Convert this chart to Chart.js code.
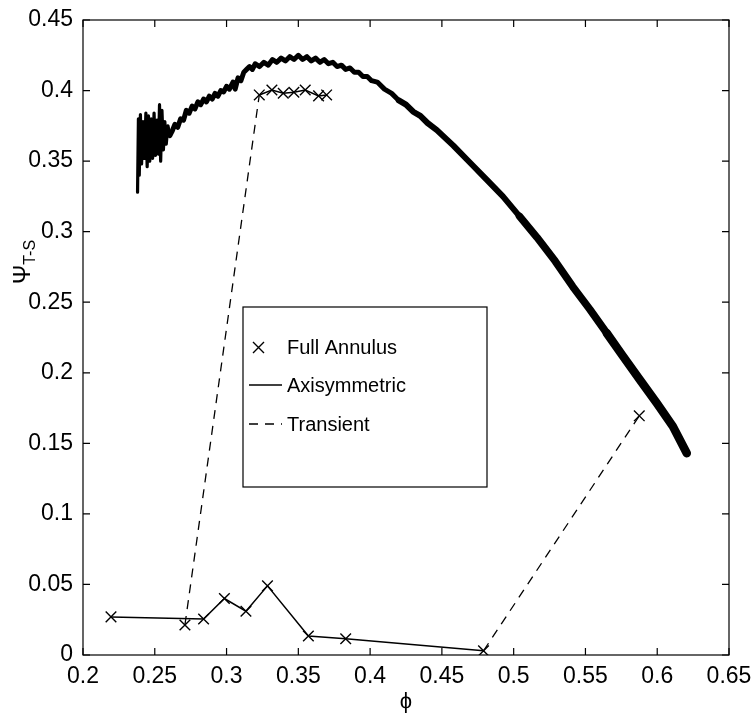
<!DOCTYPE html>
<html>
<head>
<meta charset="utf-8">
<script src="https://cdn.jsdelivr.net/npm/chart.js@4.4.1/dist/chart.umd.min.js"></script>
<style>
  body { margin: 0; background: #fff; }
  canvas { display: block; }
</style>
</head>
<body>
<canvas id="psiChart" width="752" height="715"></canvas>
<script>
const xTicks = [0.2, 0.25, 0.3, 0.35, 0.4, 0.45, 0.5, 0.55, 0.6, 0.65];
const yTicks = [0, 0.05, 0.1, 0.15, 0.2, 0.25, 0.3, 0.35, 0.4, 0.45];

// axisymmetric characteristic (noisy near stall)
const axiPhi = [
  0.2380, 0.2386, 0.2392, 0.2400, 0.2408, 0.2418, 0.2428, 0.2438, 0.2447, 0.2456,
  0.2465, 0.2475, 0.2485, 0.2495, 0.2505, 0.2515, 0.2525, 0.2533, 0.2541, 0.2550,
  0.2560, 0.2570, 0.2580, 0.2592, 0.2605,
  0.2620, 0.2640, 0.2660, 0.2680, 0.2700, 0.2720, 0.2740, 0.2760, 0.2780, 0.2800,
  0.2820, 0.2840, 0.2860, 0.2880, 0.2900, 0.2920, 0.2940, 0.2960, 0.2980, 0.3000,
  0.3020, 0.3045, 0.3060, 0.3080, 0.3100, 0.3120, 0.3140, 0.3160, 0.3180, 0.3200,
  0.3230, 0.3260, 0.3290, 0.3320, 0.3350, 0.3380, 0.3410, 0.3440, 0.3470, 0.3500,
  0.3530, 0.3560, 0.3590, 0.3620, 0.3650, 0.3680, 0.3710, 0.3740, 0.3770, 0.3800,
  0.3830, 0.3860, 0.3890, 0.3920, 0.3950, 0.3980, 0.4010, 0.4050, 0.4100, 0.4150,
  0.4200, 0.4250, 0.4300, 0.4350, 0.4400, 0.4465, 0.4580, 0.4695, 0.4810, 0.4925,
  0.5040, 0.5162, 0.5290, 0.5412, 0.5530, 0.5649, 0.5760, 0.5879, 0.6000, 0.6109,
  0.6206
];
const axiPsi = [
  0.328, 0.380, 0.340, 0.383, 0.348, 0.378, 0.352, 0.384, 0.346, 0.382,
  0.350, 0.380, 0.352, 0.384, 0.354, 0.379, 0.355, 0.390, 0.350, 0.386,
  0.358, 0.378, 0.362, 0.375, 0.368,
  0.371, 0.376, 0.374, 0.380, 0.379, 0.386, 0.384, 0.389, 0.387, 0.392,
  0.390, 0.394, 0.392, 0.396, 0.394, 0.398, 0.396, 0.400, 0.399, 0.403,
  0.401, 0.406, 0.401, 0.409, 0.407, 0.413, 0.415, 0.417, 0.415, 0.419,
  0.417, 0.420, 0.418, 0.422, 0.420, 0.423, 0.421, 0.424, 0.422, 0.425,
  0.422, 0.424, 0.421, 0.423, 0.420, 0.422, 0.419, 0.420, 0.417, 0.418,
  0.415, 0.416, 0.413, 0.413, 0.410, 0.410, 0.407, 0.406, 0.401, 0.398,
  0.393, 0.390, 0.385, 0.382, 0.377, 0.372, 0.361, 0.349, 0.337, 0.325,
  0.311, 0.296, 0.279, 0.261, 0.245, 0.228, 0.212, 0.195, 0.178, 0.162,
  0.143
];

// full annulus, unstalled branch
const annulusPhi = [0.2195, 0.2840, 0.2985, 0.3135, 0.3285, 0.3570, 0.3830, 0.4790];
const annulusPsi = [0.0270, 0.0255, 0.0400, 0.0310, 0.0490, 0.0135, 0.0115, 0.0030];
// full annulus, stalled branch
const annulusTopPhi = [0.3228, 0.3316, 0.3395, 0.3469, 0.3548, 0.3641, 0.3697];
const annulusTopPsi = [0.3969, 0.4004, 0.3981, 0.3988, 0.4004, 0.3962, 0.3969];
// single full annulus runs at the ends of the transients
const annulusLonePhi = [0.2710, 0.5875];
const annulusLonePsi = [0.0213, 0.1695];

// transients
const transientAPhi = [0.2710, 0.3228];
const transientAPsi = [0.0213, 0.3969];
const transientBPhi = [0.4790, 0.5875];
const transientBPsi = [0.0030, 0.1695];

const FONT = "'Liberation Sans', Arial, Helvetica, sans-serif";

function pts(xs, ys) {
    return xs.map((x, i) => ({ x: x, y: ys[i] }));
}

// thickness of the noisy axisymmetric band grows to the right
function axiWidth(ctx) {
    let x = ctx.p0.parsed.x;
    if (x < 0.26) return 3.2;
    if (x < 0.42) return 5;
    if (x < 0.5) return 6;
    if (x < 0.56) return 7.5;
    return 8.5;
}

// tick labels may hang over the frame, the layout should not shrink for them
function noOverhang(s) {
    s.paddingLeft = 0;
    s.paddingRight = 0;
    s.paddingTop = 0;
    s.paddingBottom = 0;
}

const framePlugin = {
    id: "frame",
    afterDraw(chart) {
        const c = chart.ctx;
        const a = chart.chartArea;
        const xs = chart.scales.x;
        const ys = chart.scales.y;
        c.save();
        c.strokeStyle = "#000";
        c.lineWidth = 1.2;
        c.strokeRect(a.left, a.top, a.right - a.left, a.bottom - a.top);

        // inward ticks on all four sides
        let len = 7;
        c.beginPath();
        xTicks.forEach(v => {
            let px = xs.getPixelForValue(v);
            c.moveTo(px, a.bottom); c.lineTo(px, a.bottom - len);
            c.moveTo(px, a.top); c.lineTo(px, a.top + len);
        });
        yTicks.forEach(v => {
            let py = ys.getPixelForValue(v);
            c.moveTo(a.left, py); c.lineTo(a.left + len, py);
            c.moveTo(a.right, py); c.lineTo(a.right - len, py);
        });
        c.stroke();

        // axis titles
        c.fillStyle = "#000";
        c.font = "22px " + FONT;
        c.textAlign = "center";
        c.textBaseline = "middle";
        c.fillText("\u03d5", (a.left + a.right) / 2, 702);

        c.save();
        c.translate(24, 262);
        c.rotate(-Math.PI / 2);
        c.font = "23px " + FONT;
        let w1 = c.measureText("\u03a8").width;
        c.font = "16px " + FONT;
        let w2 = c.measureText("T-S").width;
        let x0 = -(w1 + w2) / 2;
        c.textAlign = "left";
        c.font = "23px " + FONT;
        c.fillText("\u03a8", x0, 0);
        c.font = "16px " + FONT;
        c.fillText("T-S", x0 + w1, 7);
        c.restore();

        // legend box
        let lx = 243, ly = 307, lw = 244, lh = 180;
        c.fillStyle = "#fff";
        c.fillRect(lx, ly, lw, lh);
        c.lineWidth = 1.2;
        c.strokeRect(lx, ly, lw, lh);

        c.fillStyle = "#000";
        c.font = "20px " + FONT;
        c.textAlign = "left";
        c.textBaseline = "middle";
        let rows = [347, 385, 424];
        let labels = ["Full Annulus", "Axisymmetric", "Transient"];

        c.lineWidth = 1.4;
        c.beginPath();
        c.moveTo(253, rows[0] - 5); c.lineTo(264, rows[0] + 6);
        c.moveTo(264, rows[0] - 5); c.lineTo(253, rows[0] + 6);
        c.stroke();

        c.lineWidth = 1.5;
        c.beginPath();
        c.moveTo(249, rows[1]); c.lineTo(282, rows[1]);
        c.stroke();

        c.setLineDash([9, 7]);
        c.lineWidth = 1.3;
        c.beginPath();
        c.moveTo(249, rows[2]); c.lineTo(282, rows[2]);
        c.stroke();
        c.setLineDash([]);

        labels.forEach((t, i) => c.fillText(t, 287, rows[i] + 1));
        c.restore();
    }
};

new Chart(document.getElementById("psiChart"), {
    type: "scatter",
    data: {
        datasets: [
            {
                label: "Full Annulus",
                data: pts(annulusPhi, annulusPsi),
                showLine: true,
                borderColor: "#000",
                borderWidth: 1.5,
                pointStyle: "crossRot",
                pointRadius: 7.5,
                pointBorderWidth: 1.4,
                pointBorderColor: "#000"
            },
            {
                label: "Full Annulus stalled",
                data: pts(annulusTopPhi, annulusTopPsi),
                showLine: true,
                borderColor: "#000",
                borderWidth: 1.5,
                pointStyle: "crossRot",
                pointRadius: 7.5,
                pointBorderWidth: 1.4,
                pointBorderColor: "#000"
            },
            {
                label: "Full Annulus single",
                data: pts(annulusLonePhi, annulusLonePsi),
                showLine: false,
                pointStyle: "crossRot",
                pointRadius: 7.5,
                pointBorderWidth: 1.4,
                pointBorderColor: "#000"
            },
            {
                label: "Transient",
                data: pts(transientAPhi, transientAPsi),
                showLine: true,
                borderColor: "#000",
                borderWidth: 1.3,
                borderDash: [9, 7],
                pointRadius: 0
            },
            {
                label: "Transient 2",
                data: pts(transientBPhi, transientBPsi),
                showLine: true,
                borderColor: "#000",
                borderWidth: 1.3,
                borderDash: [9, 7],
                pointRadius: 0
            },
            {
                label: "Axisymmetric",
                data: pts(axiPhi, axiPsi),
                showLine: true,
                borderColor: "#000",
                borderWidth: 5,
                borderJoinStyle: "round",
                borderCapStyle: "round",
                segment: { borderWidth: axiWidth },
                pointRadius: 0
            }
        ]
    },
    options: {
        responsive: false,
        animation: false,
        layout: { padding: { left: 0, right: 23, top: 20, bottom: 0 } },
        plugins: {
            legend: { display: false },
            tooltip: { enabled: false }
        },
        scales: {
            x: {
                type: "linear",
                min: 0.2,
                max: 0.65,
                afterBuildTicks: s => { s.ticks = xTicks.map(v => ({ value: v })); },
                afterFit: s => { s.height = 60; noOverhang(s); },
                grid: { display: false, drawTicks: false },
                border: { display: false },
                ticks: {
                    color: "#000",
                    padding: 8,
                    maxRotation: 0,
                    autoSkip: false,
                    font: { family: FONT, size: 23 },
                    callback: v => String(+v.toFixed(2))
                }
            },
            y: {
                type: "linear",
                min: 0,
                max: 0.45,
                afterBuildTicks: s => { s.ticks = yTicks.map(v => ({ value: v })); },
                afterFit: s => { s.width = 83; noOverhang(s); },
                grid: { display: false, drawTicks: false },
                border: { display: false },
                ticks: {
                    color: "#000",
                    padding: 10,
                    autoSkip: false,
                    font: { family: FONT, size: 23 },
                    callback: v => String(+v.toFixed(2))
                }
            }
        }
    },
    plugins: [framePlugin]
});
</script>
</body>
</html>
